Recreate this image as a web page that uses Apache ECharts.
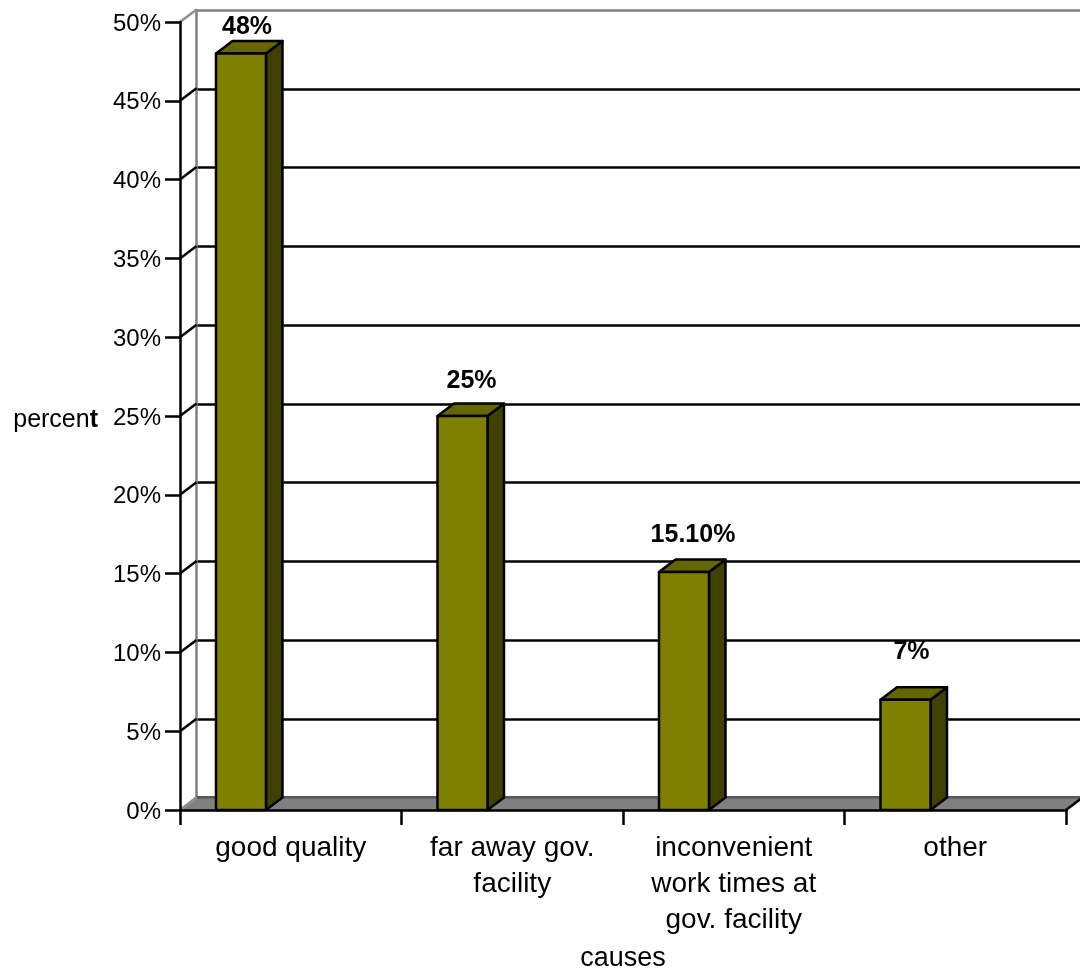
<!DOCTYPE html>
<html>
<head>
<meta charset="utf-8">
<style>html,body{margin:0;padding:0;background:#fff}#chart{width:1080px;height:970px}</style>
<script src="https://cdn.jsdelivr.net/npm/echarts@6/dist/echarts.min.js"></script>
</head>
<body>
<div id="chart"></div>
<script>
// Reasons given, with their share in percent
const causes = ['good quality', 'far away gov.\nfacility', 'inconvenient\nwork times at\ngov. facility', 'other'];
const shares = [48, 25, 15.1, 7];
const shareLabels = ['48%', '25%', '15.10%', '7%'];
const percentTicks = [0, 5, 10, 15, 20, 25, 30, 35, 40, 45, 50];

// Pseudo-3D depth of the plot box, and where a bar sits inside its band
const DEPTH_X = 16.5, DEPTH_Y = 12.5;
const BAR_START = 0.1625, BAR_WIDTH = 0.2257;
// Fine placement of the value captions relative to each bar's back top edge
const captionShiftX = [6, 9, 9, 6];
const captionLift = [14, 22, 24, 35];

const FONT = '"Liberation Sans", Arial, sans-serif';
const LINE = 2.5;
const STROKE = { stroke: '#000', lineWidth: LINE };

function poly(points, fill) {
  return { type: 'polygon', shape: { points }, style: Object.assign({ fill, lineJoin: 'round' }, STROKE) };
}

function renderBar(params, api) {
  const i = api.value(0), v = api.value(1);
  const band = api.size([1, 0])[0];
  const centre = api.coord([i, v])[0];
  const top = api.coord([i, v])[1];
  const base = api.coord([i, 0])[1];
  const x0 = centre - band / 2 + band * BAR_START;
  const x1 = x0 + band * BAR_WIDTH;
  return {
    type: 'group',
    children: [
      poly([[x1, top], [x1 + DEPTH_X, top - DEPTH_Y], [x1 + DEPTH_X, base - DEPTH_Y], [x1, base]], '#404000'),
      poly([[x0, top], [x0 + DEPTH_X, top - DEPTH_Y], [x1 + DEPTH_X, top - DEPTH_Y], [x1, top]], '#666600'),
      poly([[x0, top], [x1, top], [x1, base], [x0, base]], '#808000'),
      {
        type: 'text',
        style: {
          text: shareLabels[i],
          x: (x0 + x1) / 2 + captionShiftX[i],
          y: top - DEPTH_Y - captionLift[i],
          align: 'center', verticalAlign: 'middle',
          font: 'bold 25px ' + FONT, fill: '#000'
        }
      }
    ]
  };
}

// Grey floor of the box, lying between the front and back zero lines
function renderFloor(params, api) {
  const s = params.coordSys, y = s.y + s.height, r = s.x + s.width;
  return {
    type: 'group',
    children: [
      { type: 'polygon', shape: { points: [[s.x, y], [r, y], [r + DEPTH_X, y - DEPTH_Y], [s.x + DEPTH_X, y - DEPTH_Y]] }, style: { fill: '#808080' } },
      { type: 'line', shape: { x1: s.x + DEPTH_X, y1: y - DEPTH_Y, x2: r + DEPTH_X, y2: y - DEPTH_Y }, style: { stroke: '#5c5c5c', lineWidth: LINE } },
      { type: 'line', shape: { x1: r, y1: y, x2: r + DEPTH_X, y2: y - DEPTH_Y }, style: STROKE },
      { type: 'line', shape: { x1: s.x, y1: y, x2: s.x + DEPTH_X, y2: y - DEPTH_Y }, style: { stroke: '#909090', lineWidth: LINE } }
    ]
  };
}

// Short slanted links from the front axis to the gridlines on the back wall
function renderLink(params, api) {
  const v = api.value(1);
  const s = params.coordSys;
  const y = api.coord([0, v])[1];
  const edge = v === 0 || v === 50;
  return {
    type: 'line',
    shape: { x1: s.x, y1: y, x2: s.x + DEPTH_X, y2: y - DEPTH_Y },
    style: { stroke: edge ? '#909090' : '#000', lineWidth: LINE }
  };
}

const backGridColours = percentTicks.map(v => (v === 50 ? '#808080' : '#000'));

const option = {
  animation: false,
  backgroundColor: '#fff',
  textStyle: { fontFamily: FONT },
  grid: [
    { left: 180, right: 14, top: 22, bottom: 160, outerBoundsMode: 'none' },
    { left: 196, right: -3, top: 10, bottom: 172.5, outerBoundsMode: 'none' }
  ],
  xAxis: [
    {
      type: 'category', gridIndex: 0, data: causes, z: 3,
      axisLine: { lineStyle: { color: '#000', width: LINE } },
      axisTick: { show: true, length: 15, lineStyle: { color: '#000', width: LINE } },
      axisLabel: { color: '#000', fontSize: 28, lineHeight: 36, margin: 20, interval: 0, fontFamily: FONT },
      name: 'causes', nameLocation: 'middle', nameGap: 135,
      nameTextStyle: { color: '#000', fontSize: 27, fontFamily: FONT }
    },
    {
      type: 'category', gridIndex: 1, data: causes, show: false
    }
  ],
  yAxis: [
    {
      type: 'value', gridIndex: 0, min: 0, max: 50, interval: 5, z: 3,
      axisLine: { show: true, lineStyle: { color: '#000', width: LINE } },
      axisTick: { show: true, length: 15, lineStyle: { color: '#000', width: LINE } },
      axisLabel: {
        margin: 19,
        formatter: v => '{n|' + v + '%}',
        rich: { n: { color: '#000', fontSize: 24, fontFamily: FONT, padding: [4, 0, 0, 0] } }
      },
      splitLine: { show: false },
      name: '{a|percen}{b|t}', nameLocation: 'middle', nameGap: 82, nameRotate: 0,
      nameTextStyle: {
        padding: [8, 0, 0, 0],
        rich: {
          a: { color: '#000', fontSize: 25, fontFamily: FONT },
          b: { color: '#000', fontSize: 25, fontWeight: 'bold', fontFamily: FONT }
        }
      }
    },
    {
      type: 'value', gridIndex: 1, min: 0, max: 50, interval: 5, z: 0,
      axisLine: { show: true, lineStyle: { color: '#808080', width: LINE } },
      axisTick: { show: false },
      axisLabel: { show: false },
      splitLine: { show: true, lineStyle: { color: backGridColours, width: LINE } }
    }
  ],
  series: [
    {
      type: 'custom', name: 'floor', xAxisIndex: 0, yAxisIndex: 0, z: 1, silent: true,
      data: [[0, 0]], renderItem: renderFloor
    },
    {
      type: 'custom', name: 'links', xAxisIndex: 0, yAxisIndex: 0, z: 1, silent: true,
      data: percentTicks.map(v => [0, v]), renderItem: renderLink
    },
    {
      type: 'custom', name: 'share', xAxisIndex: 0, yAxisIndex: 0, z: 4, silent: true,
      data: shares.map((v, i) => [i, v]), renderItem: renderBar
    }
  ]
};

const chart = echarts.init(document.getElementById('chart'), null, { renderer: 'canvas' });
chart.setOption(option);
</script>
</body>
</html>
